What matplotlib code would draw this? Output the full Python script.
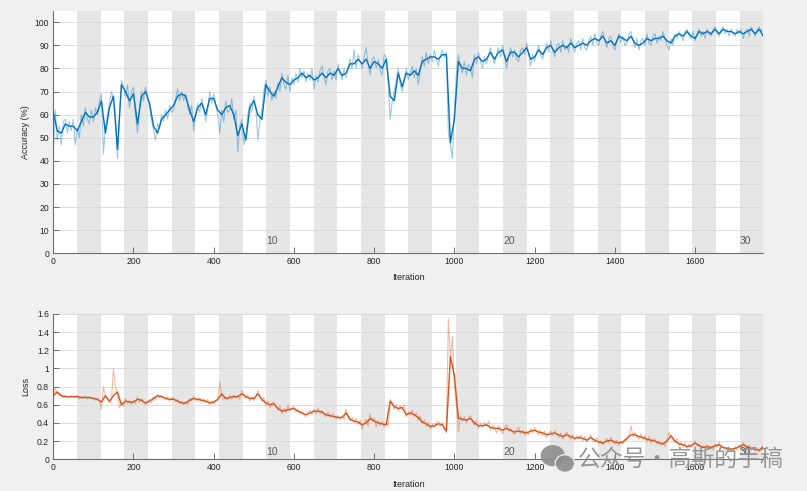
import numpy as np
import matplotlib
matplotlib.use('Agg')
import matplotlib.pyplot as plt
from matplotlib.patches import Ellipse
from matplotlib.ticker import FormatStrFormatter

plt.rcParams['font.family'] = ['Liberation Sans', 'DejaVu Sans']

iters_per_epoch = 59
n_epochs = 30
epoch_labels = [10, 20, 30]
max_iter = 1770

# smoothed accuracy, one value every 10 iterations
acc_smooth = [
    61, 53, 52, 56, 55, 55, 53, 57, 61, 59,
    59, 61, 66, 52, 63, 68, 45, 73, 70, 66,
    69, 56, 68, 70, 65, 55, 52, 58, 60, 62,
    64, 68, 69, 68, 62, 57, 63, 65, 60, 67,
    67, 62, 60, 63, 64, 60, 51, 56, 49, 63,
    66, 60, 58, 73, 70, 68, 72, 76, 74, 73,
    75, 76, 78, 76, 77, 75, 76, 78, 76, 78,
    77, 80, 77, 78, 82, 82, 84, 82, 84, 80,
    83, 82, 80, 84, 68, 66, 78, 72, 78, 77,
    79, 77, 83, 84, 85, 85, 84, 86, 86, 48,
    58, 83, 80, 80, 79, 84, 85, 83, 84, 87,
    84, 87, 88, 83, 87, 87, 85, 87, 89, 84,
    85, 88, 86, 89, 90, 87, 89, 90, 89, 91,
    89, 90, 91, 90, 92, 93, 92, 94, 91, 92,
    90, 94, 93, 92, 94, 91, 90, 91, 93, 92,
    93, 93, 94, 92, 91, 94, 95, 94, 96, 94,
    93, 96, 95, 96, 95, 97, 95, 97, 96, 96,
    95, 96, 95, 96, 97, 95, 97, 94,
]

# raw accuracy, one value every 5 iterations
acc_raw = [
    43, 62, 49, 55, 47, 57, 58, 52, 57, 53, 58, 47, 54, 50, 60, 55, 63, 58, 56, 62,
    57, 63, 60, 66, 69, 43, 55, 60, 65, 70, 67, 60, 41, 58, 75, 72, 68, 73, 63, 70,
    72, 60, 52, 62, 70, 66, 72, 68, 63, 58, 53, 49, 56, 54, 60, 57, 62, 58, 64, 61,
    62, 67, 71, 66, 70, 66, 69, 64, 60, 64, 53, 60, 65, 61, 67, 63, 57, 62, 70, 65,
    69, 64, 60, 52, 62, 57, 66, 61, 62, 67, 58, 62, 44, 55, 58, 47, 51, 60, 65, 61,
    68, 63, 49, 57, 62, 70, 75, 68, 72, 66, 70, 67, 74, 70, 78, 73, 71, 77, 70, 76,
    73, 78, 74, 80, 76, 79, 74, 78, 75, 80, 71, 77, 74, 79, 81, 76, 73, 79, 80, 75,
    79, 75, 82, 78, 75, 80, 76, 81, 84, 80, 88, 80, 86, 83, 80, 85, 89, 82, 77, 84,
    85, 80, 84, 79, 77, 86, 85, 74, 58, 66, 70, 75, 80, 73, 70, 76, 80, 75, 78, 81,
    76, 80, 73, 79, 85, 81, 87, 82, 86, 83, 88, 84, 81, 86, 88, 85, 87, 52, 47, 41,
    62, 78, 86, 81, 78, 83, 77, 82, 80, 76, 86, 82, 87, 83, 80, 85, 82, 86, 89, 85,
    82, 86, 89, 85, 90, 86, 80, 85, 89, 85, 88, 84, 83, 88, 89, 86, 91, 87, 81, 86,
    83, 87, 90, 86, 84, 88, 91, 87, 92, 88, 85, 90, 91, 87, 92, 88, 90, 87, 93, 90,
    87, 91, 92, 88, 93, 89, 88, 92, 94, 90, 95, 91, 90, 94, 96, 92, 89, 93, 94, 90,
    88, 92, 95, 91, 94, 90, 91, 95, 96, 92, 89, 93, 88, 92, 93, 90, 95, 91, 90, 94,
    95, 91, 94, 92, 96, 93, 90, 88, 93, 90, 95, 93, 96, 94, 92, 96, 97, 94, 93, 96,
    92, 95, 97, 94, 96, 93, 97, 95, 94, 97, 98, 95, 94, 97, 98, 95, 97, 94, 97, 95,
    94, 97, 95, 97, 93, 96, 97, 94, 98, 96, 94, 97, 98, 96, 97,
]

# smoothed loss, one value every 10 iterations
loss_smooth = [
    0.70, 0.74, 0.70, 0.69, 0.69, 0.69, 0.69, 0.68, 0.68, 0.68,
    0.67, 0.66, 0.63, 0.70, 0.64, 0.70, 0.74, 0.60, 0.64, 0.63,
    0.63, 0.66, 0.65, 0.62, 0.64, 0.67, 0.70, 0.69, 0.67, 0.66,
    0.66, 0.64, 0.62, 0.62, 0.65, 0.67, 0.66, 0.65, 0.64, 0.62,
    0.63, 0.66, 0.72, 0.67, 0.68, 0.69, 0.69, 0.72, 0.69, 0.67,
    0.67, 0.72, 0.66, 0.62, 0.60, 0.61, 0.56, 0.53, 0.54, 0.55,
    0.56, 0.53, 0.51, 0.49, 0.51, 0.53, 0.53, 0.52, 0.49, 0.48,
    0.47, 0.46, 0.46, 0.51, 0.44, 0.42, 0.41, 0.38, 0.40, 0.45,
    0.42, 0.40, 0.39, 0.38, 0.64, 0.58, 0.56, 0.57, 0.49, 0.51,
    0.49, 0.46, 0.41, 0.39, 0.36, 0.37, 0.39, 0.38, 0.31, 1.13,
    0.92, 0.45, 0.44, 0.43, 0.45, 0.40, 0.37, 0.37, 0.38, 0.35,
    0.34, 0.34, 0.32, 0.34, 0.32, 0.30, 0.31, 0.30, 0.29, 0.31,
    0.32, 0.30, 0.29, 0.27, 0.28, 0.29, 0.27, 0.25, 0.27, 0.25,
    0.23, 0.24, 0.23, 0.21, 0.24, 0.21, 0.19, 0.18, 0.20, 0.21,
    0.19, 0.18, 0.19, 0.23, 0.27, 0.27, 0.25, 0.24, 0.22, 0.21,
    0.20, 0.18, 0.17, 0.20, 0.26, 0.20, 0.17, 0.16, 0.14, 0.15,
    0.18, 0.15, 0.13, 0.14, 0.13, 0.15, 0.16, 0.13, 0.12, 0.11,
    0.12, 0.14, 0.16, 0.14, 0.12, 0.11, 0.10, 0.14,
]

# raw loss, one value every 5 iterations
loss_raw = [
    0.66, 0.78, 0.73, 0.70, 0.71, 0.68, 0.70, 0.69, 0.68, 0.70, 0.69, 0.68, 0.70, 0.66, 0.69, 0.67, 0.70, 0.66, 0.69, 0.67,
    0.68, 0.65, 0.67, 0.64, 0.55, 0.80, 0.70, 0.66, 0.62, 0.64, 1.00, 0.80, 0.73, 0.57, 0.62, 0.58, 0.67, 0.61, 0.65, 0.60,
    0.65, 0.61, 0.69, 0.63, 0.67, 0.62, 0.60, 0.64, 0.66, 0.62, 0.69, 0.66, 0.71, 0.68, 0.70, 0.67, 0.66, 0.69, 0.64, 0.67,
    0.68, 0.64, 0.66, 0.61, 0.64, 0.60, 0.63, 0.60, 0.67, 0.64, 0.69, 0.65, 0.64, 0.68, 0.63, 0.67, 0.62, 0.66, 0.60, 0.64,
    0.61, 0.65, 0.64, 0.85, 0.70, 0.65, 0.69, 0.65, 0.70, 0.66, 0.71, 0.67, 0.70, 0.66, 0.76, 0.70, 0.67, 0.71, 0.64, 0.69,
    0.65, 0.69, 0.76, 0.70, 0.64, 0.68, 0.59, 0.64, 0.57, 0.62, 0.63, 0.58, 0.54, 0.59, 0.50, 0.56, 0.52, 0.60, 0.53, 0.57,
    0.58, 0.52, 0.55, 0.50, 0.53, 0.48, 0.47, 0.52, 0.54, 0.49, 0.55, 0.50, 0.56, 0.50, 0.54, 0.49, 0.47, 0.52, 0.46, 0.50,
    0.49, 0.44, 0.48, 0.43, 0.48, 0.44, 0.55, 0.48, 0.42, 0.46, 0.40, 0.45, 0.38, 0.43, 0.33, 0.40, 0.44, 0.36, 0.50, 0.43,
    0.45, 0.36, 0.43, 0.37, 0.42, 0.35, 0.40, 0.36, 0.66, 0.62, 0.55, 0.60, 0.53, 0.59, 0.55, 0.60, 0.47, 0.53, 0.49, 0.54,
    0.47, 0.51, 0.43, 0.48, 0.39, 0.44, 0.36, 0.41, 0.33, 0.39, 0.35, 0.40, 0.42, 0.36, 0.40, 0.34, 0.29, 1.55, 1.10, 1.35,
    0.80, 0.60, 0.30, 0.48, 0.42, 0.47, 0.40, 0.46, 0.48, 0.42, 0.37, 0.43, 0.34, 0.40, 0.35, 0.41, 0.36, 0.42, 0.32, 0.37,
    0.36, 0.29, 0.37, 0.32, 0.28, 0.35, 0.38, 0.31, 0.34, 0.29, 0.27, 0.33, 0.35, 0.28, 0.32, 0.26, 0.31, 0.27, 0.34, 0.29,
    0.35, 0.30, 0.27, 0.32, 0.26, 0.31, 0.24, 0.29, 0.31, 0.26, 0.32, 0.27, 0.24, 0.29, 0.22, 0.27, 0.30, 0.25, 0.22, 0.27,
    0.21, 0.26, 0.22, 0.27, 0.20, 0.25, 0.19, 0.23, 0.27, 0.21, 0.19, 0.24, 0.17, 0.21, 0.16, 0.20, 0.23, 0.18, 0.24, 0.19,
    0.17, 0.21, 0.15, 0.20, 0.17, 0.22, 0.21, 0.26, 0.37, 0.25, 0.30, 0.24, 0.22, 0.28, 0.21, 0.26, 0.19, 0.25, 0.18, 0.23,
    0.22, 0.17, 0.20, 0.15, 0.19, 0.14, 0.22, 0.30, 0.24, 0.21, 0.18, 0.23, 0.15, 0.19, 0.13, 0.18, 0.12, 0.17, 0.13, 0.16,
    0.20, 0.15, 0.17, 0.12, 0.15, 0.11, 0.16, 0.12, 0.14, 0.10, 0.17, 0.13, 0.19, 0.12, 0.14, 0.10, 0.13, 0.10, 0.12, 0.09,
    0.14, 0.10, 0.16, 0.12, 0.19, 0.14, 0.12, 0.16, 0.10, 0.13, 0.09, 0.12, 0.08, 0.11, 0.15,
]

it_smooth = np.arange(len(acc_smooth)) * 10
it_raw = np.arange(len(acc_raw)) * 5

BLUE = '#0072BD'
ORANGE = '#D95319'
TXT = '#262626'


def draw_panel(ax, raw, smooth, color, ymax, yticks, ylabel, xlab_y, fmt):
    ax.set_facecolor('white')
    for e in range(1, n_epochs, 2):
        ax.axvspan(e * iters_per_epoch, (e + 1) * iters_per_epoch,
                   color='#e6e6e6', lw=0, zorder=0.2)
    ax.plot(it_raw, raw, color=color, alpha=0.38, lw=0.8, zorder=2)
    ax.plot(it_smooth, smooth, color=color, lw=1.0, zorder=3)

    ax.set_xlim(0, max_iter)
    ax.set_ylim(0, ymax)
    ax.set_yticks(yticks)
    ax.set_xticks(np.arange(0, 1601, 200))
    ax.yaxis.set_major_formatter(FormatStrFormatter(fmt))
    ax.set_axisbelow(True)
    ax.yaxis.grid(True, color='#dcdcdc', lw=0.7)
    ax.xaxis.grid(False)
    for s in ['top', 'right']:
        ax.spines[s].set_visible(False)
    for s in ['left', 'bottom']:
        ax.spines[s].set_color('#6e6e6e')
        ax.spines[s].set_linewidth(0.8)
    ax.tick_params(direction='in', length=4, width=0.7, colors='#6e6e6e',
                   labelcolor=TXT, labelsize=6.2, pad=3)

    for ep in epoch_labels:
        ax.text((ep - 1) * iters_per_epoch + 15, 0.05, str(ep),
                transform=ax.get_xaxis_transform(), ha='center', va='center',
                fontsize=7.5, color='#595959')

    ax.set_ylabel(ylabel, fontsize=6.5, color=TXT)
    ax.yaxis.set_label_coords(-0.033, 0.5)
    ax.set_xlabel('Iteration', fontsize=6.5, color=TXT)
    ax.xaxis.set_label_coords(0.5, xlab_y)


fig = plt.figure(figsize=(8.07, 4.91), dpi=100, facecolor='#f0f0f0')
ax1 = fig.add_axes([0.066, 0.4841, 0.8798, 0.4941])
ax2 = fig.add_axes([0.066, 0.0646, 0.8798, 0.2960])

draw_panel(ax1, acc_raw, acc_smooth, BLUE, 105, np.arange(0, 101, 10),
           'Accuracy (%)', -0.081, '%g')
draw_panel(ax2, loss_raw, loss_smooth, ORANGE, 1.6, np.arange(0, 1.61, 0.2),
           'Loss', -0.142, '%g')

# watermark
wm_color = '#8c8c8c'
fig.patches.append(Ellipse((0.685, 0.072), 0.030, 0.043, transform=fig.transFigure,
                           facecolor=wm_color, edgecolor='none', alpha=0.9))
fig.patches.append(Ellipse((0.700, 0.056), 0.024, 0.036, transform=fig.transFigure,
                           facecolor=wm_color, edgecolor='#f0f0f0', lw=1.0, alpha=0.9))
fig.text(0.716, 0.064, '公众号·高斯的手稿',
         family=['Noto Sans CJK SC', 'DejaVu Sans'], fontsize=16.5,
         color=wm_color, alpha=0.9, va='center', ha='left')

fig.savefig('out.png', dpi=100, facecolor=fig.get_facecolor())
